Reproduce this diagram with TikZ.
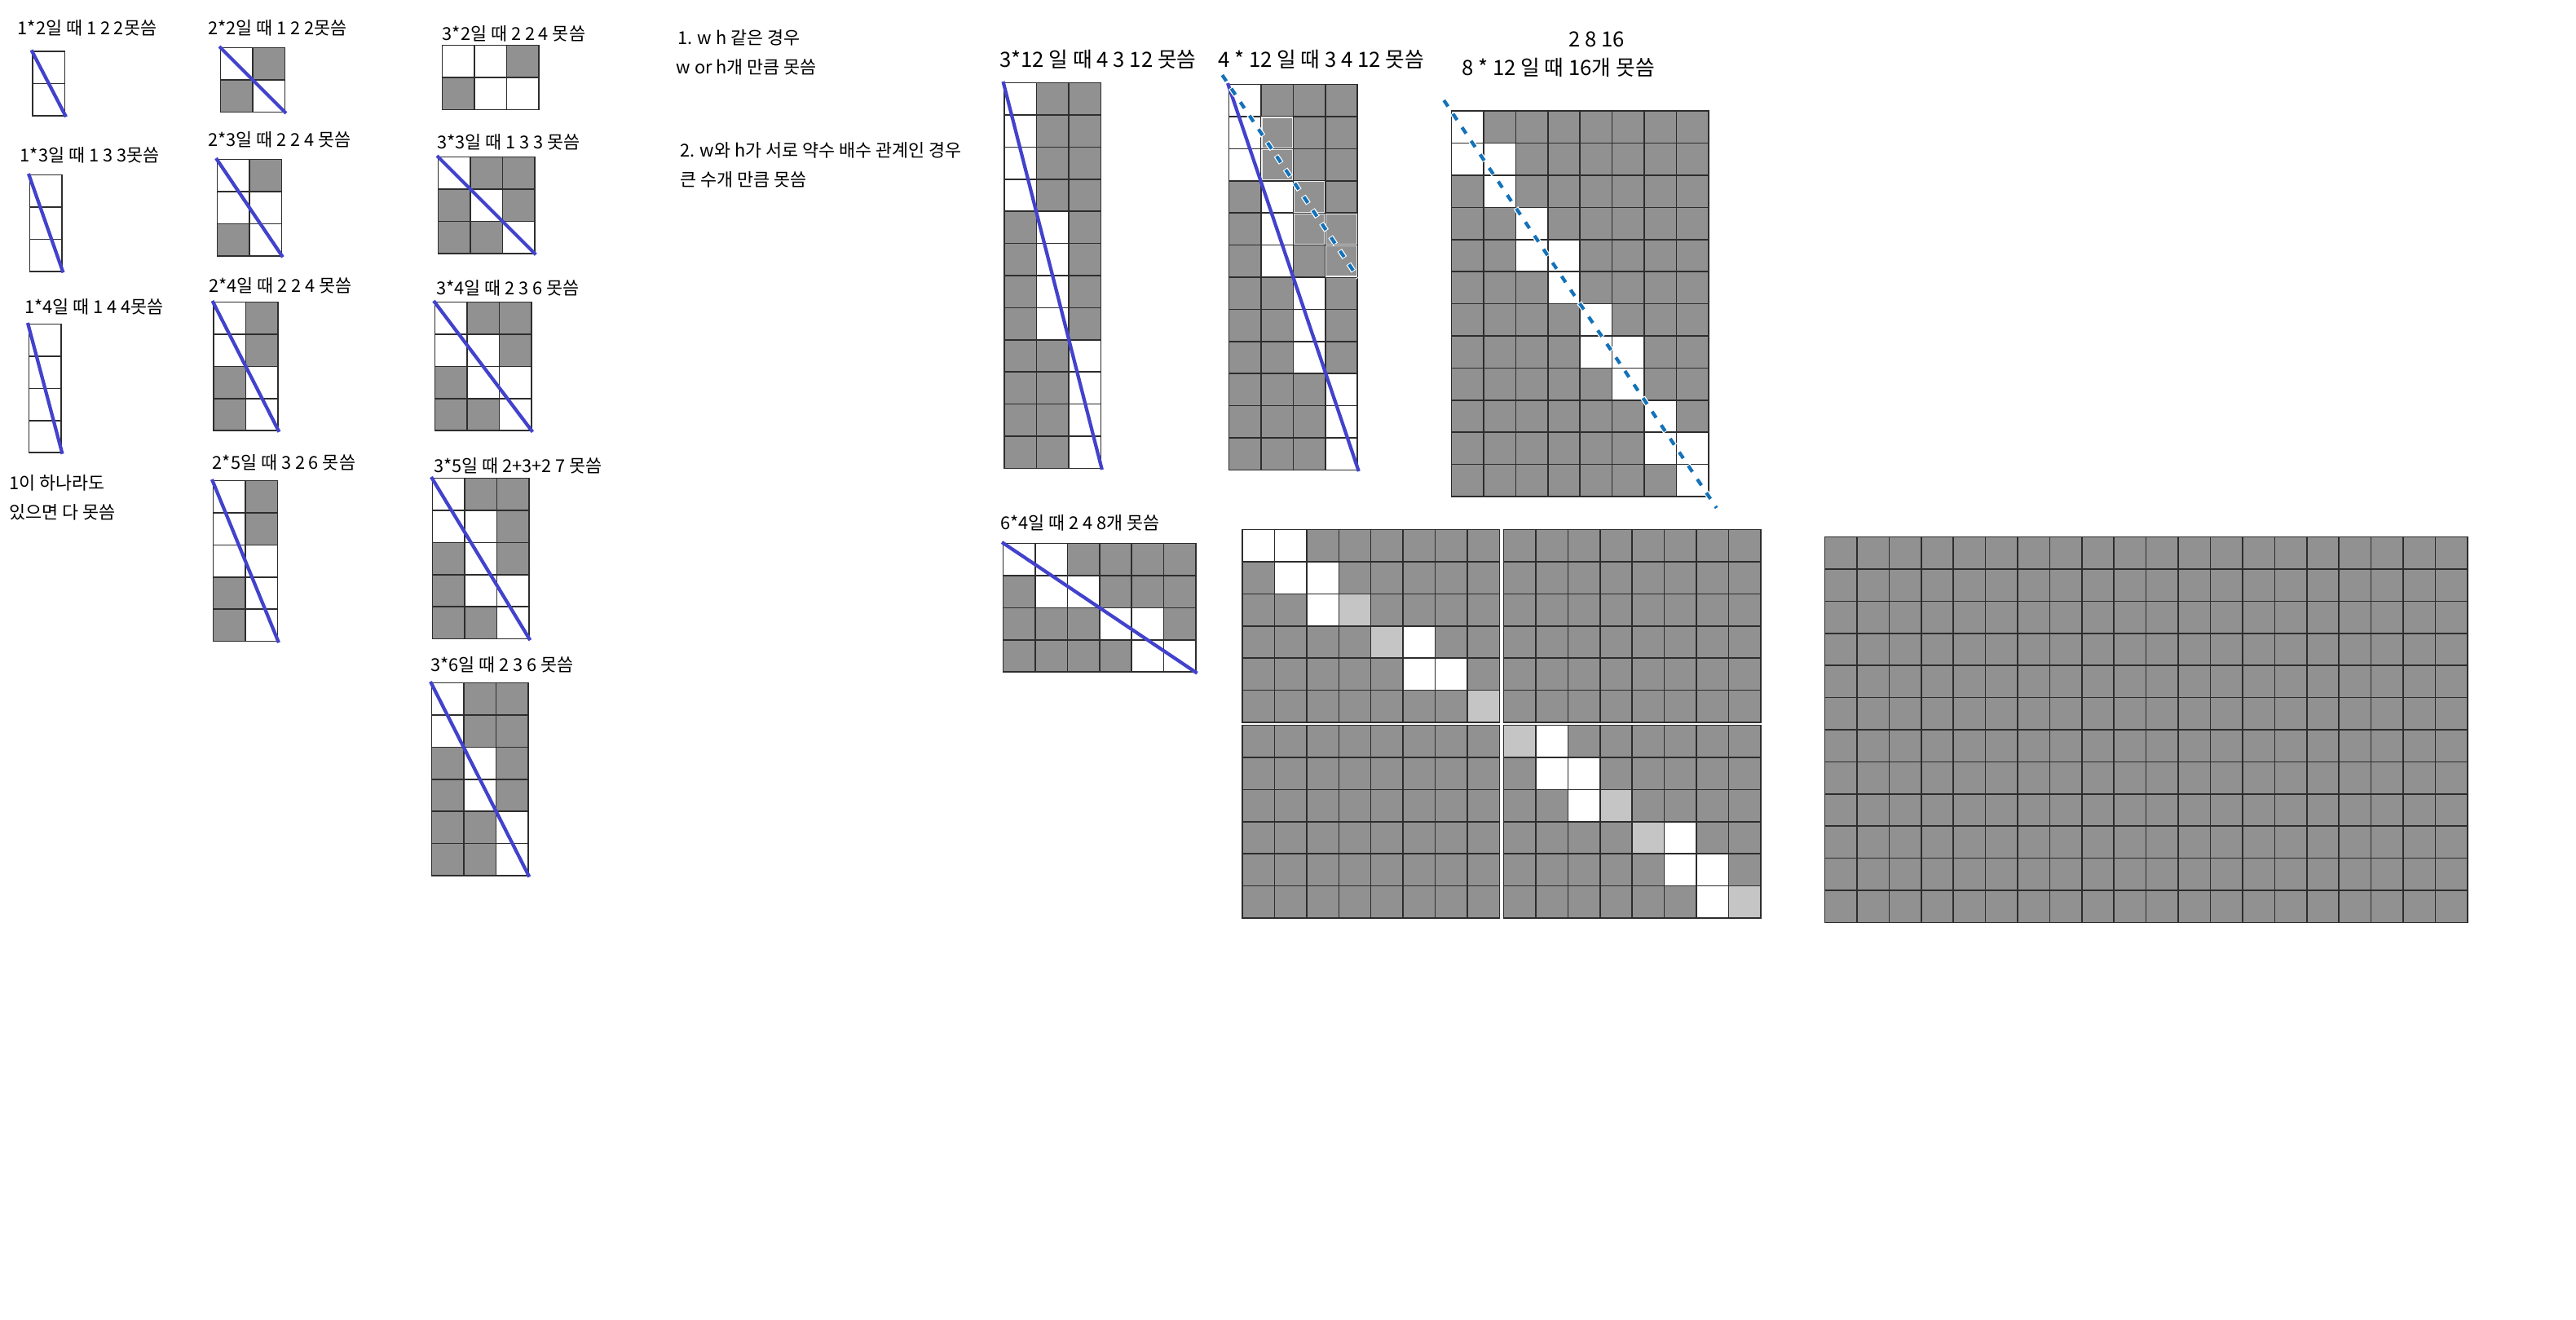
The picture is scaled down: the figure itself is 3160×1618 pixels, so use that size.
\documentclass[tikz,border=0pt]{standalone}
\usepackage{fontspec}
\setmainfont{Noto Sans CJK KR}
\usepackage{tikz}
\usetikzlibrary{calc}
\usetikzlibrary{matrix}

\definecolor{cellgray}{RGB}{145,145,145}
\definecolor{lightcell}{RGB}{197,197,197}
\definecolor{gridline}{RGB}{45,45,45}
\definecolor{diagblue}{RGB}{66,66,204}
\definecolor{dashblue}{RGB}{20,114,184}
\definecolor{rimgray}{RGB}{236,236,236}

\begin{document}
\begin{tikzpicture}[x=0.025cm, y=-0.025cm]

\tikzset{square matrix/.style={
		matrix of nodes,
		nodes in empty cells,
		inner sep=0pt,
		line width=1.1pt,
		column sep=-\pgflinewidth, row sep=-\pgflinewidth,
		anchor=north west,
		nodes={draw=gridline,
			fill=cellgray,
			minimum height=#1,
			anchor=center,
			text width=#1,
			align=center,
			inner sep=0pt
		},
	},
	square matrix/.default=0.985cm,
	white cell/.style={fill=white},
	light cell/.style={fill=lightcell},
	rim cell/.style={draw=rimgray, line width=0.9pt},
	diag line/.style={draw=diagblue, line width=3pt},
	cut halo/.style={draw=white, line width=4.8pt, dash pattern=on 7.8pt off 6.4pt},
	cut line/.style={draw=dashblue, line width=3pt, dash pattern=on 6.4pt off 7.8pt, dash phase=13.5pt},
	lbl/.style={anchor=west, inner sep=0pt, font=\fontsize{15.5pt}{18pt}\selectfont},
	big lbl/.style={lbl, font=\fontsize{18.3pt}{21pt}\selectfont}
}

\path[use as bounding box, fill=white] (0,0) rectangle (3160,1618);

% labels
\node[lbl] (t12) at (21.5,34) {1*2일 때 1 2 2못씀};
\node[lbl] (t22) at (255,34) {2*2일 때 1 2 2못씀};
\node[lbl] (t32) at (542.5,41.5) {3*2일 때 2 2 4 못씀};
\node[lbl] (t13) at (24.6,190) {1*3일 때 1 3 3못씀};
\node[lbl] (t23) at (255,171) {2*3일 때 2 2 4 못씀};
\node[lbl] (t33) at (536,174) {3*3일 때 1 3 3 못씀};
\node[lbl] (t14) at (30,376.5) {1*4일 때 1 4 4못씀};
\node[lbl] (t24) at (256,350) {2*4일 때 2 2 4 못씀};
\node[lbl] (t34) at (535,353.5) {3*4일 때 2 3 6 못씀};
\node[lbl] (one1) at (11,592) {1이 하나라도};
\node[lbl] (one2) at (11,628) {있으면 다 못씀};
\node[lbl] (t25) at (260.5,567) {2*5일 때 3 2 6 못씀};
\node[lbl] (t35) at (532,571) {3*5일 때 2+3+2 7 못씀};
\node[lbl] (t36) at (528,815) {3*6일 때 2 3 6 못씀};
\node[lbl] (rule1) at (831,46) {1. w h 같은 경우};
\node[lbl] (rule1b) at (829.5,82.5) {w or h개 만큼 못씀};
\node[lbl] (rule2) at (834,184) {2. w와 h가 서로 약수 배수 관계인 경우};
\node[lbl] (rule2b) at (834,220) {큰 수개 만큼 못씀};
\node[big lbl] (t312) at (1226,73) {3*12 일 때 4 3 12 못씀};
\node[big lbl] (t412) at (1494,72.5) {4 * 12 일 때 3 4 12 못씀};
\node[big lbl] (nums) at (1924,48) {2 8 16};
\node[big lbl] (t812) at (1793,82.5) {8 * 12 일 때 16개 못씀};
\node[lbl] (t64) at (1227,641) {6*4일 때 2 4 8개 못씀};

% w = 1
\matrix[square matrix] (g12) at (38.5,61.4)
{
	|[white cell]| \\
	|[white cell]| \\
};
\matrix[square matrix] (g13) at (35,213)
{
	|[white cell]| \\
	|[white cell]| \\
	|[white cell]| \\
};
\matrix[square matrix] (g14) at (34,396)
{
	|[white cell]| \\
	|[white cell]| \\
	|[white cell]| \\
	|[white cell]| \\
};

% w = 2
\matrix[square matrix] (g22) at (269,57)
{
	|[white cell]| & \\
	& |[white cell]| \\
};
\matrix[square matrix] (g23) at (265,194)
{
	|[white cell]| & \\
	|[white cell]| & |[white cell]| \\
	& |[white cell]| \\
};
\matrix[square matrix] (g24) at (260.5,369)
{
	|[white cell]| & \\
	|[white cell]| & \\
	& |[white cell]| \\
	& |[white cell]| \\
};
\matrix[square matrix] (g25) at (260,588)
{
	|[white cell]| & \\
	|[white cell]| & \\
	|[white cell]| & |[white cell]| \\
	& |[white cell]| \\
	& |[white cell]| \\
};

% w = 3
\matrix[square matrix] (g32) at (541,54)
{
	|[white cell]| & |[white cell]| & \\
	& |[white cell]| & |[white cell]| \\
};
\matrix[square matrix] (g33) at (536,191)
{
	|[white cell]| & & \\
	& |[white cell]| & \\
	& & |[white cell]| \\
};
\matrix[square matrix] (g34) at (532,369)
{
	|[white cell]| & & \\
	|[white cell]| & |[white cell]| & \\
	& |[white cell]| & |[white cell]| \\
	& & |[white cell]| \\
};
\matrix[square matrix] (g35) at (529,585)
{
	|[white cell]| & & \\
	|[white cell]| & |[white cell]| & \\
	& |[white cell]| & \\
	& |[white cell]| & |[white cell]| \\
	& & |[white cell]| \\
};
\matrix[square matrix] (g36) at (528,836)
{
	|[white cell]| & & \\
	|[white cell]| & & \\
	& |[white cell]| & \\
	& |[white cell]| & \\
	& & |[white cell]| \\
	& & |[white cell]| \\
};

% h = 12
\matrix[square matrix] (g312) at (1230.5,100)
{
	|[white cell]| & & \\
	|[white cell]| & & \\
	|[white cell]| & & \\
	|[white cell]| & & \\
	& |[white cell]| & \\
	& |[white cell]| & \\
	& |[white cell]| & \\
	& |[white cell]| & \\
	& & |[white cell]| \\
	& & |[white cell]| \\
	& & |[white cell]| \\
	& & |[white cell]| \\
};
\matrix[square matrix] (g412) at (1506,102)
{
	|[white cell]| & & & \\
	|[white cell]| & & & \\
	|[white cell]| & & & \\
	& |[white cell]| & & \\
	& |[white cell]| & & \\
	& |[white cell]| & & \\
	& & |[white cell]| & \\
	& & |[white cell]| & \\
	& & |[white cell]| & \\
	& & & |[white cell]| \\
	& & & |[white cell]| \\
	& & & |[white cell]| \\
};
\matrix[square matrix] (g812) at (1779,134.6)
{
	|[white cell]| & & & & & & & \\
	|[white cell]| & |[white cell]| & & & & & & \\
	& |[white cell]| & & & & & & \\
	& & |[white cell]| & & & & & \\
	& & |[white cell]| & |[white cell]| & & & & \\
	& & & |[white cell]| & & & & \\
	& & & & |[white cell]| & & & \\
	& & & & |[white cell]| & |[white cell]| & & \\
	& & & & & |[white cell]| & & \\
	& & & & & & |[white cell]| & \\
	& & & & & & |[white cell]| & |[white cell]| \\
	& & & & & & & |[white cell]| \\
};

% 6 * 4
\matrix[square matrix] (g64) at (1229,665)
{
	|[white cell]| & |[white cell]| & & & & \\
	& |[white cell]| & |[white cell]| & & & \\
	& & & |[white cell]| & |[white cell]| & \\
	& & & & |[white cell]| & |[white cell]| \\
};

% four blocks
\matrix[square matrix] (q1) at (1522.5,648)
{
	|[white cell]| & |[white cell]| & & & & & & \\
	& |[white cell]| & |[white cell]| & & & & & \\
	& & |[white cell]| & |[light cell]| & & & & \\
	& & & & |[light cell]| & |[white cell]| & & \\
	& & & & & |[white cell]| & |[white cell]| & \\
	& & & & & & & |[light cell]| \\
};
\matrix[square matrix] (q2) at (1843,648)
{
	& & & & & & & \\
	& & & & & & & \\
	& & & & & & & \\
	& & & & & & & \\
	& & & & & & & \\
	& & & & & & & \\
};
\matrix[square matrix] (q3) at (1522.5,888)
{
	& & & & & & & \\
	& & & & & & & \\
	& & & & & & & \\
	& & & & & & & \\
	& & & & & & & \\
	& & & & & & & \\
};
\matrix[square matrix] (q4) at (1843,888)
{
	|[light cell]| & |[white cell]| & & & & & & \\
	& |[white cell]| & |[white cell]| & & & & & \\
	& & |[white cell]| & |[light cell]| & & & & \\
	& & & & |[light cell]| & |[white cell]| & & \\
	& & & & & |[white cell]| & |[white cell]| & \\
	& & & & & & |[white cell]| & |[light cell]| \\
};

% 20 * 12
\matrix[square matrix] (big) at (2237,657)
{
	& & & & & & & & & & & & & & & & & & & \\
	& & & & & & & & & & & & & & & & & & & \\
	& & & & & & & & & & & & & & & & & & & \\
	& & & & & & & & & & & & & & & & & & & \\
	& & & & & & & & & & & & & & & & & & & \\
	& & & & & & & & & & & & & & & & & & & \\
	& & & & & & & & & & & & & & & & & & & \\
	& & & & & & & & & & & & & & & & & & & \\
	& & & & & & & & & & & & & & & & & & & \\
	& & & & & & & & & & & & & & & & & & & \\
	& & & & & & & & & & & & & & & & & & & \\
	& & & & & & & & & & & & & & & & & & & \\
};

% crossed cells
\draw[rim cell] ([shift={(1.8,1.8)}]g412-2-2.north west) rectangle ([shift={(-1.8,-1.8)}]g412-2-2.south east);
\draw[rim cell] ([shift={(1.8,1.8)}]g412-3-2.north west) rectangle ([shift={(-1.8,-1.8)}]g412-3-2.south east);
\draw[rim cell] ([shift={(1.8,1.8)}]g412-4-3.north west) rectangle ([shift={(-1.8,-1.8)}]g412-4-3.south east);
\draw[rim cell] ([shift={(1.8,1.8)}]g412-5-3.north west) rectangle ([shift={(-1.8,-1.8)}]g412-5-3.south east);
\draw[rim cell] ([shift={(1.8,1.8)}]g412-5-4.north west) rectangle ([shift={(-1.8,-1.8)}]g412-5-4.south east);
\draw[rim cell] ([shift={(1.8,1.8)}]g412-6-4.north west) rectangle ([shift={(-1.8,-1.8)}]g412-6-4.south east);

% diagonals
\draw[diag line] (g12.north west) -- (g12.south east);
\draw[diag line] (g13.north west) -- (g13.south east);
\draw[diag line] (g14.north west) -- (g14.south east);
\draw[diag line] (g22.north west) -- (g22.south east);
\draw[diag line] (g23.north west) -- (g23.south east);
\draw[diag line] (g24.north west) -- (g24.south east);
\draw[diag line] (g25.north west) -- (g25.south east);
\draw[diag line] (g33.north west) -- (g33.south east);
\draw[diag line] (g34.north west) -- (g34.south east);
\draw[diag line] (g35.north west) -- (g35.south east);
\draw[diag line] (g36.north west) -- (g36.south east);
\draw[diag line] (g312.north west) -- (g312.south east);
\draw[diag line] (g412.north west) -- (g412.south east);
\draw[diag line] (g64.north west) -- (g64.south east);

% dashed cuts
\coordinate (c412a) at ($(g412.north west)!-0.045!(g412-6-4.south east)$);
\coordinate (c812a) at ($(g812.north west)!-0.026!(g812.south east)$);
\coordinate (c812b) at ($(g812.north west)!1.026!(g812.south east)$);
\draw[cut halo] (c412a) -- (g412-6-4.south east);
\draw[cut line] (c412a) -- (g412-6-4.south east);
\draw[cut halo] (c812a) -- (c812b);
\draw[cut line] (c812a) -- (c812b);

\end{tikzpicture}
\end{document}
